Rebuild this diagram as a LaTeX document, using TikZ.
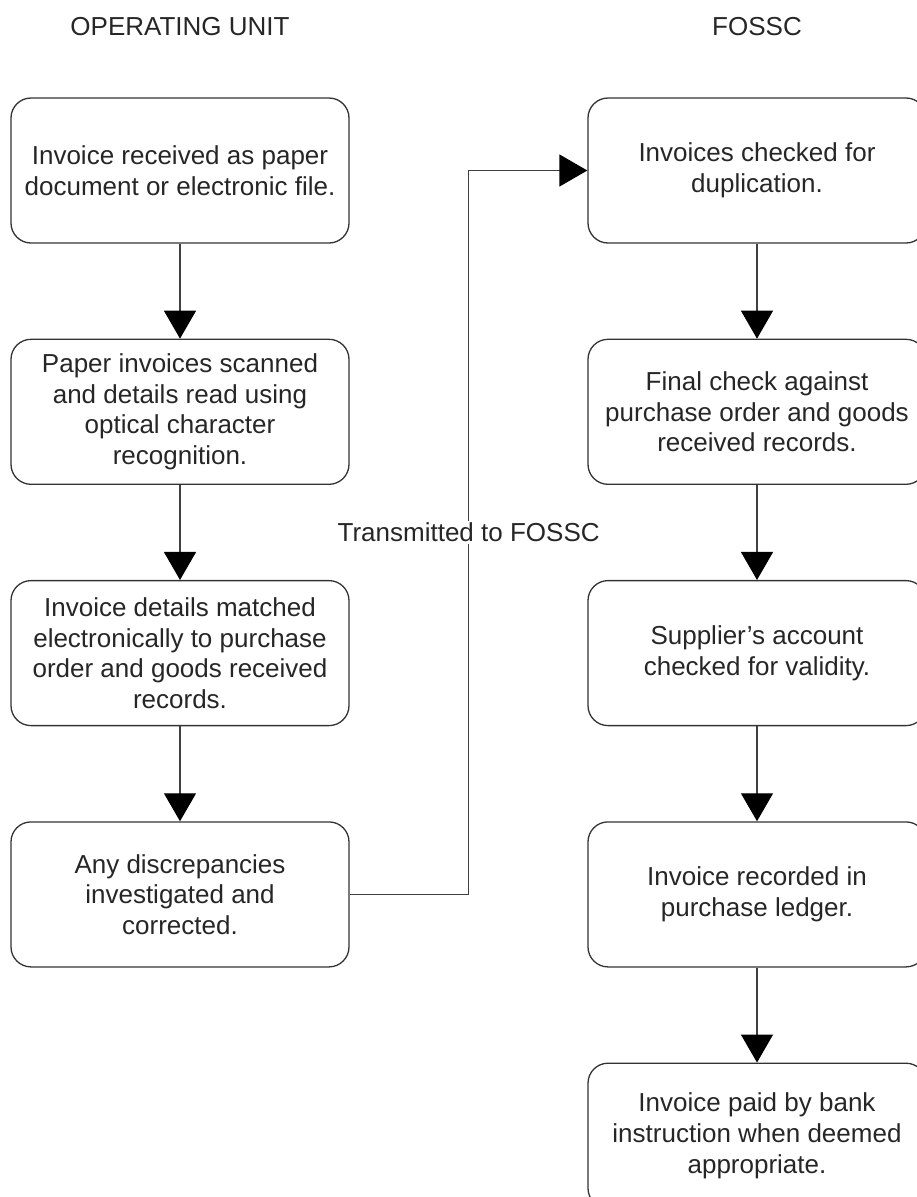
\documentclass[tikz,border=0pt]{standalone}
\usepackage{fontspec}
\setmainfont{Liberation Sans}
\usepackage{tikz}
\usetikzlibrary{arrows.meta,positioning}
\newcommand{\flowfont}{\fontsize{26}{30.7}\selectfont}

\begin{document}
\begin{tikzpicture}[x=1pt, y=1pt, node distance=95pt,
    stepbox/.style={draw=black!80, line width=1.3pt, rounded corners=20pt,
        minimum width=338pt, minimum height=145pt, align=center,
        text=black!85, font=\flowfont},
    headtxt/.style={text=black!85, font=\flowfont, inner sep=0pt},
    link/.style={draw=black!75, line width=1.3pt,
        -{Triangle[width=32pt, length=28pt, color=black]}}]
    \useasboundingbox (0,0) rectangle (917,-1197);
    % Column titles
    \node[headtxt] (hdop) at (180,-26.5) {OPERATING UNIT};
    \node[headtxt] (hdfo) at (757,-26.5) {FOSSC};
    % Operating unit steps
    \node[stepbox] (op1) at (180,-170.5) {Invoice received as paper\\document or electronic file.};
    \node[stepbox, below=of op1] (op2) {Paper invoices scanned\\and details read using\\optical character\\recognition.};
    \node[stepbox, below=of op2] (op3) {Invoice details matched\\electronically to purchase\\order and goods received\\records.};
    \node[stepbox, below=of op3] (op4) {Any discrepancies\\investigated and\\corrected.};
    % FOSSC steps
    \node[stepbox] (fo1) at (757,-170.5) {Invoices checked for\\duplication.};
    \node[stepbox, below=of fo1] (fo2) {Final check against\\purchase order and goods\\received records.};
    \node[stepbox, below=of fo2] (fo3) {Supplier's account\\checked for validity.};
    \node[stepbox, below=of fo3] (fo4) {Invoice recorded in\\purchase ledger.};
    \node[stepbox, below=of fo4] (fo5) {Invoice paid by bank\\instruction when deemed\\appropriate.};
    % Arrows
    \foreach \a/\b in {op1/op2, op2/op3, op3/op4, fo1/fo2, fo2/fo3, fo3/fo4, fo4/fo5} {
        \draw[link] (\a.south) -- (\b.north);
    }
    \draw[link] (op4.east) -- ++(119,0)
        |- node[pos=0.25, fill=white, inner sep=2pt, text=black!85, font=\flowfont] (send) {Transmitted to FOSSC} (fo1.west);
\end{tikzpicture}
\end{document}
